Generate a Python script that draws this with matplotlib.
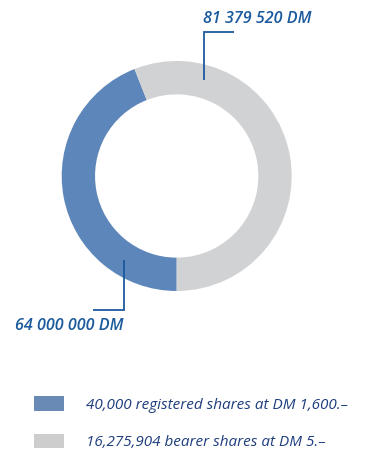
import matplotlib
matplotlib.use("Agg")
import matplotlib.pyplot as plt
import numpy as np
from matplotlib.patches import Rectangle

# Share capital split (DM)
segment_values = [64_000_000, 81_379_520]
segment_labels = ["64 000 000 DM", "81 379 520 DM"]
legend_texts = ["40,000 registered shares at DM 1,600.\u2013",
                "16,275,904 bearer shares at DM 5.\u2013"]
segment_colors = ["#5d87bb", "#d1d2d4"]
legend_colors = ["#6a8ab6", "#cdcdcd"]

LABEL_COLOR = "#1b5a9c"
LEGEND_TEXT_COLOR = "#1e3d7d"
FONT = ["Open Sans", "DejaVu Sans"]

W, H = 366, 450
fig = plt.figure(figsize=(W / 100, H / 100), dpi=100)
fig.patch.set_facecolor("white")

# Donut axes, placed in pixel terms
cx, cy, R = 176.7, 176.0, 115.0
ax = fig.add_axes([(cx - R) / W, (H - cy - R) / H, 2 * R / W, 2 * R / H])
ax.pie(segment_values, colors=segment_colors, startangle=-90, counterclock=False,
       radius=1.0, wedgeprops=dict(width=0.29, linewidth=0))
ax.set_xlim(-1, 1)
ax.set_ylim(-1, 1)
ax.set_aspect("equal")
ax.axis("off")

# Overlay in pixel coordinates for callouts and legend
ov = fig.add_axes([0, 0, 1, 1])
ov.set_xlim(0, W)
ov.set_ylim(H, 0)
ov.axis("off")

def ring_point(angle_deg, r=0.865):
    a = np.deg2rad(angle_deg)
    return cx + R * r * np.cos(a), cy - R * r * np.sin(a)

# Callout for the bearer-share segment (top)
x0, y0 = ring_point(74)
ov.plot([x0, x0, 234], [y0, 31.7, 31.7], color=LABEL_COLOR, lw=1.3,
        solid_capstyle="butt", solid_joinstyle="miter")
ov.text(203.3, 22.7, segment_labels[1], color=LABEL_COLOR, fontsize=11.6,
        style="italic", weight="semibold", family=FONT, ha="left", va="baseline")

# Callout for the registered-share segment (bottom)
x1, y1 = ring_point(237.7)
ov.plot([x1, x1, 93.3], [y1, 310, 310], color=LABEL_COLOR, lw=1.3,
        solid_capstyle="butt", solid_joinstyle="miter")
ov.text(15.0, 330.5, segment_labels[0], color=LABEL_COLOR, fontsize=11.6,
        style="italic", weight="semibold", family=FONT, ha="left", va="baseline")

# Legend
for i, (txt, col) in enumerate(zip(legend_texts, legend_colors)):
    top = 396 + i * 37.5
    ov.add_patch(Rectangle((34, top), 30, 14.7, facecolor=col, edgecolor="none"))
    ov.text(86, top + 13, txt, color=LEGEND_TEXT_COLOR, fontsize=11,
            style="italic", weight="medium", family=FONT, ha="left", va="baseline")

fig.savefig("out.png", dpi=100, facecolor="white")
